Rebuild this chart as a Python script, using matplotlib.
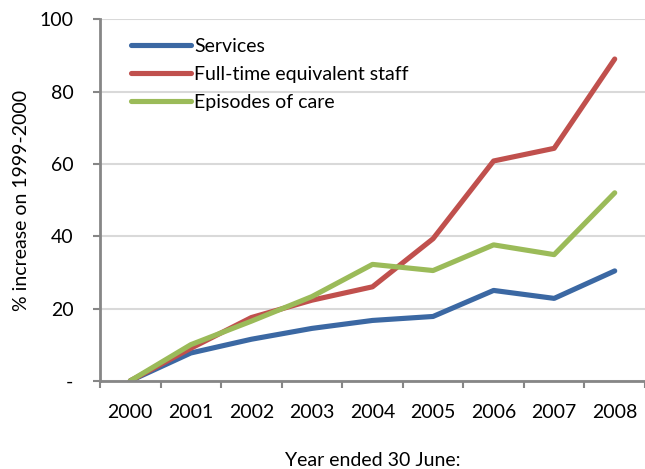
import matplotlib
matplotlib.use('Agg')
import matplotlib.pyplot as plt

# Dados
anos = ['2000', '2001', '2002', '2003', '2004', '2005', '2006', '2007', '2008']
servicos = [0, 7.7, 11.5, 14.5, 16.7, 17.8, 25.0, 22.8, 30.4]
staff = [0, 9.0, 17.5, 22.3, 26.0, 39.3, 60.8, 64.3, 89.0]
episodios = [0, 10.0, 16.5, 23.3, 32.2, 30.5, 37.6, 34.9, 52.0]

y_ticks = [0, 20, 40, 60, 80, 100]
y_tick_labels = ['-', '20', '40', '60', '80', '100']

plt.rcParams['font.family'] = ['Lato', 'DejaVu Sans']
TAM = 14

fig = plt.figure(figsize=(6.45, 4.69), dpi=100)
ax = fig.add_axes([0.155, 0.188, 0.845, 0.771])

x = range(len(anos))
ax.plot(x, servicos, color='#3B68A3', lw=3.7, solid_capstyle='round', label='Services')
ax.plot(x, staff, color='#C0504D', lw=3.7, solid_capstyle='round', label='Full-time equivalent staff')
ax.plot(x, episodios, color='#9BBB59', lw=3.7, solid_capstyle='round', label='Episodes of care')

ax.set_xlim(-0.5, len(anos) - 0.5)
ax.set_ylim(0, 100)

# Eixo x de categorias: marcas entre as categorias, rótulos no centro
ax.set_xticks([i - 0.5 for i in range(len(anos) + 1)])
ax.set_xticklabels([])
ax.set_xticks(list(x), minor=True)
ax.set_xticklabels(anos, minor=True, fontsize=TAM)
ax.tick_params(axis='x', which='major', direction='out', length=5, width=1.5, color='#868686')
ax.tick_params(axis='x', which='minor', length=0, pad=17)

ax.set_yticks(y_ticks)
ax.set_yticklabels(y_tick_labels, fontsize=TAM)
ax.tick_params(axis='y', direction='out', length=5, width=1.5, color='#868686', pad=14)

ax.grid(axis='y', color='#D9D9D9', lw=1.5)
ax.set_axisbelow(True)

for lado in ['top', 'right']:
    ax.spines[lado].set_visible(False)
for lado in ['left', 'bottom']:
    ax.spines[lado].set_color('#868686')
    ax.spines[lado].set_linewidth(2)

ax.set_xlabel('Year ended 30 June:', fontsize=TAM, labelpad=22)
ax.set_ylabel('% increase on 1999-2000', fontsize=TAM, labelpad=7)

ax.legend(loc='upper left', frameon=False, fontsize=TAM, handlelength=3.1,
          handletextpad=0.15, labelspacing=0.56, borderaxespad=0.2,
          bbox_to_anchor=(0.035, 0.98))

plt.savefig('out.png', dpi=100)
